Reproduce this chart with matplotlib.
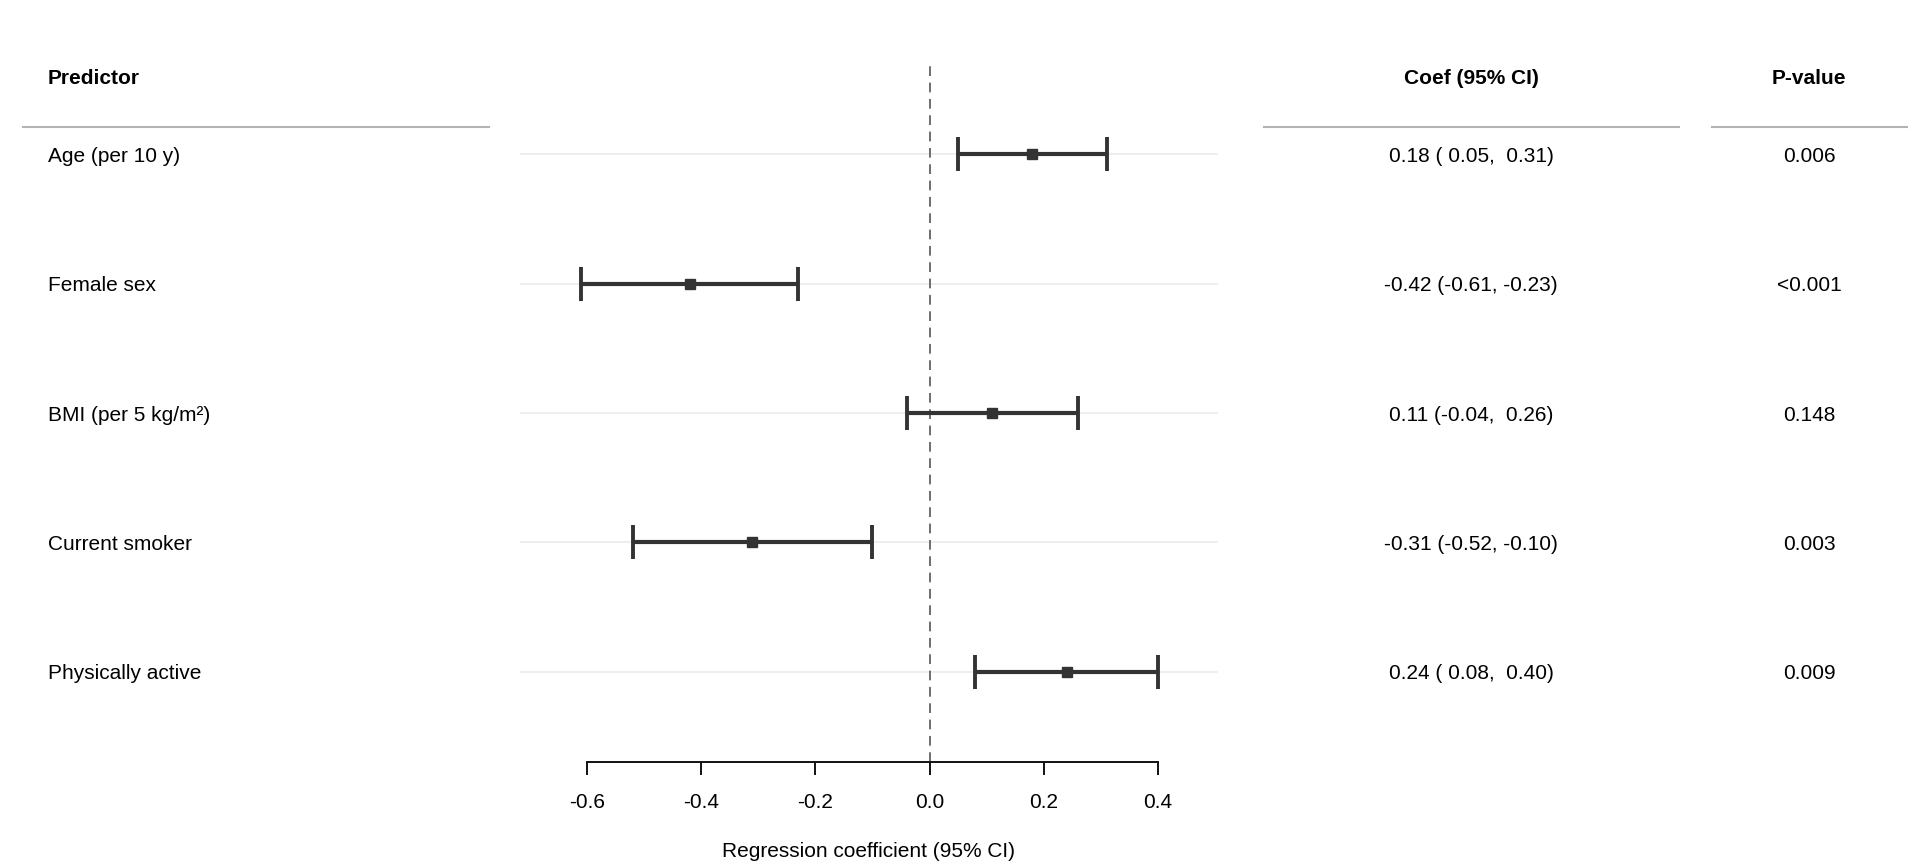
import matplotlib
matplotlib.use("Agg")
import matplotlib.pyplot as plt
from matplotlib.lines import Line2D
from matplotlib.transforms import blended_transform_factory

plt.rcParams['font.family'] = ['Liberation Sans', 'DejaVu Sans']

# ---- data ----
predictors = ["Age (per 10 y)", "Female sex", "BMI (per 5 kg/m²)", "Current smoker", "Physically active"]
coef = [0.18, -0.42, 0.11, -0.31, 0.24]
ci_low = [0.05, -0.61, -0.04, -0.52, 0.08]
ci_high = [0.31, -0.23, 0.26, -0.10, 0.40]
p_values = ["0.006", "<0.001", "0.148", "0.003", "0.009"]
x_ticks = [-0.6, -0.4, -0.2, 0.0, 0.2, 0.4]
x_tick_labels = ["-0.6", "-0.4", "-0.2", "0.0", "0.2", "0.4"]

W, H = 1920, 864
fig = plt.figure(figsize=(W / 100, H / 100), dpi=100)

def fx(x):
    return x / W

def fy(y):
    return 1 - y / H

# forest axes
ax_l, ax_r, ax_t, ax_b = 520, 1218, 64, 762
ax = fig.add_axes([fx(ax_l), fy(ax_b), (ax_r - ax_l) / W, (ax_b - ax_t) / H])
n = len(predictors)
rows = list(range(1, n + 1))
ax.set_ylim(n + 0.695, 0.305)
ax.set_xlim(-0.717, 0.505)

dark = "#333333"
for r in rows:
    ax.axhline(r, color="#ebebeb", lw=1.2, zorder=0)
ax.axvline(0, color="#6e6e6e", lw=1.4, linestyle=(0, (5, 3.4)), zorder=1)

err_lo = [c - l for c, l in zip(coef, ci_low)]
err_hi = [h - c for c, h in zip(coef, ci_high)]
ax.errorbar(coef, rows, xerr=[err_lo, err_hi], fmt="s", color=dark, ecolor=dark,
            elinewidth=3.0, capsize=12.2, capthick=2.8, markersize=7, zorder=3)

for s in ["top", "right", "left"]:
    ax.spines[s].set_visible(False)
ax.spines["bottom"].set_bounds(x_ticks[0], x_ticks[-1])
ax.spines["bottom"].set_linewidth(1.4)
ax.spines["bottom"].set_color("#111111")
ax.set_yticks([])
ax.set_xticks(x_ticks)
ax.set_xticklabels(x_tick_labels, fontsize=15)
ax.tick_params(axis="x", length=9.4, width=1.4, color="#111111", pad=13)
ax.set_xlabel("Regression coefficient (95% CI)", fontsize=15, labelpad=21.5)
ax.patch.set_alpha(0)

# table columns
tr = blended_transform_factory(fig.transFigure, ax.transData)
coef_x = 1471
p_x = 1809
for r, name, c, lo, hi, p in zip(rows, predictors, coef, ci_low, ci_high, p_values):
    fig.text(fx(48), r, name, transform=tr, ha="left", va="center_baseline", fontsize=15)
    fig.text(fx(coef_x), r, f"{c:.2f} ({lo:5.2f}, {hi:5.2f})", transform=tr,
             ha="center", va="center_baseline", fontsize=15)
    fig.text(fx(p_x), r, p, transform=tr, ha="center", va="center_baseline", fontsize=15)

# headers
hy = 77
fig.text(fx(48), fy(hy), "Predictor", ha="left", va="center_baseline", fontsize=15, fontweight="bold")
fig.text(fx(coef_x), fy(hy), "Coef (95% CI)", ha="center", va="center_baseline", fontsize=15, fontweight="bold")
fig.text(fx(p_x), fy(hy), "P-value", ha="center", va="center_baseline", fontsize=15, fontweight="bold")

line_y = 127
for x0, x1 in [(23, 489), (1264, 1679), (1712, 1907)]:
    fig.add_artist(Line2D([fx(x0), fx(x1)], [fy(line_y), fy(line_y)], transform=fig.transFigure,
                          color="#b3b3b3", lw=1.5))

fig.savefig("out.png", dpi=100, facecolor="white")
